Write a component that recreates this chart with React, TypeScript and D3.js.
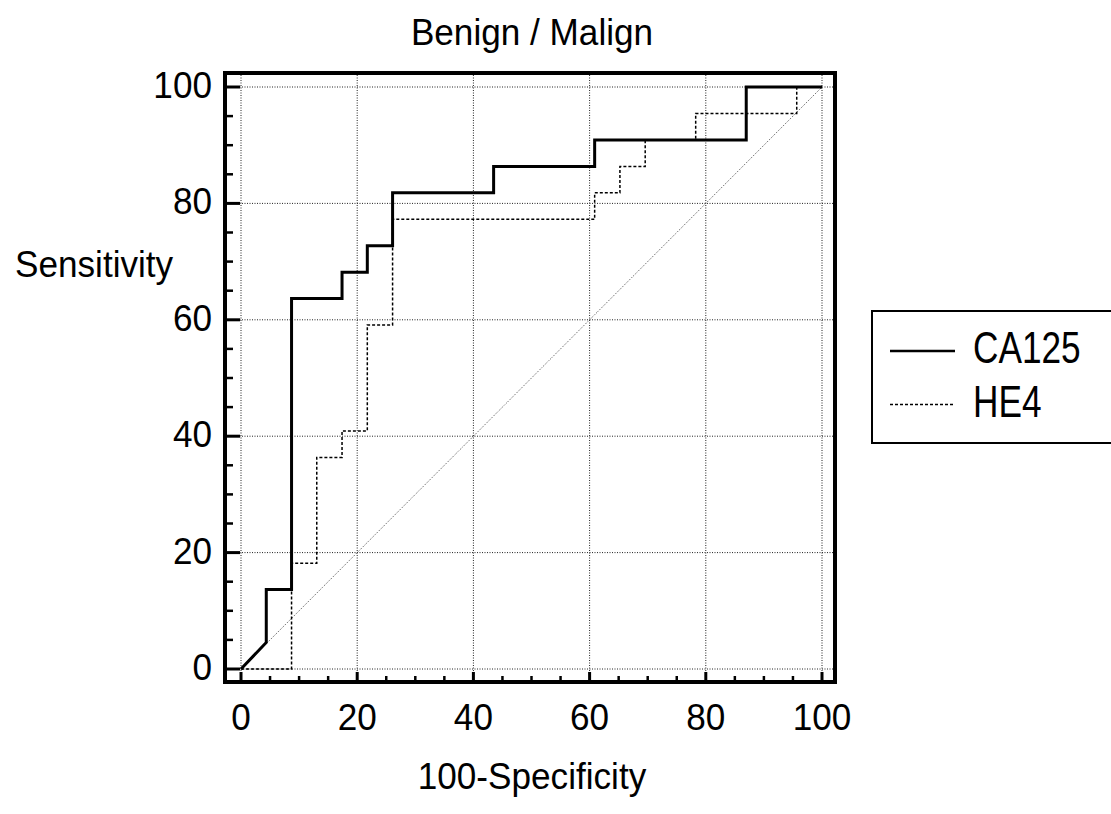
import React from 'react';
import * as d3 from 'd3';

// ROC points: [100-specificity, sensitivity]
const ca125: [number, number][] = [
  [0, 0], [4.35, 4.55], [4.35, 13.64], [8.7, 13.64], [8.7, 63.64],
  [17.39, 63.64], [17.39, 68.18], [21.74, 68.18], [21.74, 72.73],
  [26.09, 72.73], [26.09, 81.82], [43.48, 81.82], [43.48, 86.36],
  [60.87, 86.36], [60.87, 90.91], [86.96, 90.91], [86.96, 100], [100, 100],
];

const he4: [number, number][] = [
  [0, 0], [8.7, 0], [8.7, 18.18], [13.04, 18.18], [13.04, 36.36],
  [17.39, 36.36], [17.39, 40.91], [21.74, 40.91], [21.74, 59.09],
  [26.09, 59.09], [26.09, 77.27], [60.87, 77.27], [60.87, 81.82],
  [65.22, 81.82], [65.22, 86.36], [69.57, 86.36], [69.57, 90.91],
  [78.26, 90.91], [78.26, 95.45], [95.65, 95.45], [95.65, 100], [100, 100],
];

const reference: [number, number][] = [[0, 0], [100, 100]];

const majorTicks = [0, 20, 40, 60, 80, 100];
const minorTicks = d3.range(0, 101, 5).filter(v => v % 20 !== 0);

const legendItems = [
  { name: 'CA125', dash: null, width: 2.5 },
  { name: 'HE4', dash: '3 2', width: 1.5 },
];

const FONT = '"Liberation Sans", Arial, sans-serif';

const W = 1111;
const H = 814;
const frame = { left: 225, right: 835, top: 73, bottom: 682 };

const App = () => {
  const x = d3.scaleLinear().domain([0, 100]).range([241, 822]);
  const y = d3.scaleLinear().domain([0, 100]).range([669, 87]);

  const line = d3.line<[number, number]>()
    .x(d => x(d[0]))
    .y(d => y(d[1]))
    .curve(d3.curveLinear);

  const label = (text: string, tx: number, ty: number, anchor: string, size = 37, sx = 0.95) => (
    <text
      transform={`translate(${tx},${ty}) scale(${sx},1)`}
      textAnchor={anchor}
      fontFamily={FONT}
      fontSize={size}
      fill="#000"
    >
      {text}
    </text>
  );

  return (
    <svg width={W} height={H} style={{ position: 'absolute', left: 0, top: 0, background: '#fff' }}>
      <rect x={0} y={0} width={W} height={H} fill="#fff" />

      {/* grid */}
      {majorTicks.map(v => (
        <g key={'g' + v}>
          <line x1={x(v)} x2={x(v)} y1={frame.top + 2} y2={frame.bottom - 2} stroke="#222" strokeWidth={1} strokeDasharray="1 1.5" />
          <line x1={frame.left + 2} x2={frame.right - 2} y1={y(v)} y2={y(v)} stroke="#222" strokeWidth={1} strokeDasharray="1 1.5" />
        </g>
      ))}

      {/* diagonal reference */}
      <path d={line(reference) || ''} fill="none" stroke="#444" strokeWidth={1} strokeDasharray="1 1.5" />

      {/* curves */}
      <path d={line(he4) || ''} fill="none" stroke="#000" strokeWidth={1.5} strokeDasharray="3 2" />
      <path d={line(ca125) || ''} fill="none" stroke="#000" strokeWidth={3} strokeLinejoin="miter" />

      {/* frame */}
      <rect x={frame.left} y={frame.top} width={frame.right - frame.left} height={frame.bottom - frame.top} fill="none" stroke="#000" strokeWidth={4} />

      {/* ticks */}
      {majorTicks.map(v => (
        <g key={'t' + v}>
          <line x1={x(v)} x2={x(v)} y1={frame.bottom} y2={frame.bottom - 10} stroke="#000" strokeWidth={3} />
          <line x1={frame.left} x2={frame.left + 15} y1={y(v)} y2={y(v)} stroke="#000" strokeWidth={3} />
        </g>
      ))}
      {minorTicks.map(v => (
        <g key={'m' + v}>
          <line x1={x(v)} x2={x(v)} y1={frame.bottom} y2={frame.bottom - 6} stroke="#000" strokeWidth={2.5} />
          <line x1={frame.left} x2={frame.left + 8} y1={y(v)} y2={y(v)} stroke="#000" strokeWidth={2.5} />
        </g>
      ))}

      {/* tick labels */}
      {majorTicks.map(v => (
        <g key={'xl' + v}>{label(String(v), x(v), 730, 'middle')}</g>
      ))}
      {majorTicks.map(v => (
        <g key={'yl' + v}>{label(String(v), 212, y(v) + 11, 'end')}</g>
      ))}

      {/* titles */}
      {label('Benign / Malign', 532, 45, 'middle')}
      {label('Sensitivity', 15, 277, 'start')}
      {label('100-Specificity', 532, 789, 'middle')}

      {/* legend */}
      <rect x={872} y={311} width={260} height={132} fill="#fff" stroke="#000" strokeWidth={2} />
      {legendItems.map((item, i) => (
        <g key={item.name} transform={`translate(0,${i * 53.5})`}>
          <line x1={890} x2={955} y1={351} y2={351} stroke="#000" strokeWidth={item.width} strokeDasharray={item.dash || undefined} />
          {label(item.name, 973, 363, 'start', 44, 0.8)}
        </g>
      ))}
    </svg>
  );
};

export default App;
